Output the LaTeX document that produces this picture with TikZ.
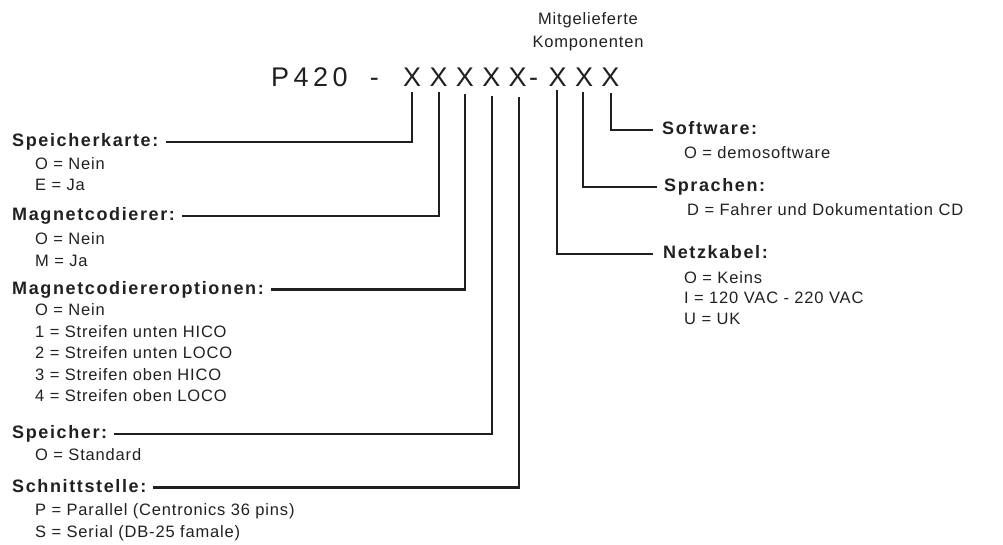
\documentclass[tikz,border=0pt]{standalone}
\usepackage{fontspec}
\setmainfont{Liberation Sans}
\newfontfamily\trkfont[LetterSpace=5]{Liberation Sans}
\newfontfamily\hdfont[LetterSpace=9]{Liberation Sans}
\newfontfamily\pfont[LetterSpace=16.7]{Liberation Sans}
\newfontfamily\xfont[LetterSpace=31]{Liberation Sans}
\definecolor{ink}{HTML}{231F20}
\tikzset{
  ln/.style={line width=2.4pt, draw=ink, line join=miter, line cap=butt},
  hd/.style={inner sep=0pt, anchor=base west, text height=12pt, text depth=3pt, text=ink,
             font=\hdfont\bfseries\fontsize{18}{20}\selectfont},
  it/.style={inner sep=0pt, anchor=base west, text=ink, font=\trkfont\fontsize{16.5}{18}\selectfont},
  big/.style={inner sep=0pt, anchor=base west, text=ink},
}
\begin{document}
\begin{tikzpicture}[x=1pt,y=-1pt]
\useasboundingbox (0,0) rectangle (1003,544);
% header
\node[inner sep=0pt, text=ink, align=center, font=\trkfont\fontsize{16.5}{23}\selectfont] (mk) at (588,32) {Mitgelieferte\\Komponenten};
\node[big, font=\pfont\fontsize{27}{30}\selectfont] (p420) at (271,86) {P420 \kern10pt-};
\node[big, font=\xfont\fontsize{27}{30}\selectfont] (code) at (403,86) {XXXXX\kern2.5pt-\kern10.5pt XXX};
% connector tops
\coordinate (c1) at (412,92);
\coordinate (c2) at (439,92);
\coordinate (c3) at (465,94);
\coordinate (c4) at (492,96);
\coordinate (c5) at (519,97);
\coordinate (c6) at (557,90);
\coordinate (c7) at (583,92);
\coordinate (c8) at (611,93);
% left labels
\node[hd] (sk) at (12,146.5) {Speicherkarte:};
\node[it] (sk1) at (35,169.5) {O = Nein};
\node[it] (sk2) at (35,190.5) {E = Ja};
\node[hd] (mc) at (12,220.5) {Magnetcodierer:};
\node[it] (mc1) at (35,244) {O = Nein};
\node[it] (mc2) at (35,266) {M = Ja};
\node[hd] (mo) at (12,294) {Magnetcodiereroptionen:};
\node[it] (mo1) at (35,315.5) {O = Nein};
\node[it] (mo2) at (35,337) {1 = Streifen unten HICO};
\node[it] (mo3) at (35,358.5) {2 = Streifen unten LOCO};
\node[it] (mo4) at (35,380) {3 = Streifen oben HICO};
\node[it] (mo5) at (35,401.5) {4 = Streifen oben LOCO};
\node[hd] (sp) at (12,438.5) {Speicher:};
\node[it] (sp1) at (35,460) {O = Standard};
\node[hd] (sn) at (12,492) {Schnittstelle:};
\node[it] (sn1) at (35,515.5) {P = Parallel (Centronics 36 pins)};
\node[it] (sn2) at (35,537.5) {S = Serial (DB-25 famale)};
% right labels
\node[hd] (sw) at (662,134.5) {Software:};
\node[it] (sw1) at (684,158.5) {O = demosoftware};
\node[hd] (spr) at (664,191.5) {Sprachen:};
\node[it] (spr1) at (687,215.5) {D = Fahrer und Dokumentation CD};
\node[hd] (nk) at (663,258.5) {Netzkabel:};
\node[it] (nk1) at (684,283) {O = Keins};
\node[it] (nk2) at (684,303.5) {I = 120 VAC - 220 VAC};
\node[it] (nk3) at (684,324.5) {U = UK};
% connectors
\draw[ln] (c1) |- ([xshift=7pt]sk.east);
\draw[ln] (c2) |- ([xshift=7pt]mc.east);
\draw[ln] (c3) |- ([xshift=7pt]mo.east);
\draw[ln] (c4) |- ([xshift=7pt]sp.east);
\draw[ln] (c5) |- ([xshift=7pt]sn.east);
\draw[ln] (c6) |- ([xshift=-10pt]nk.west);
\draw[ln] (c7) |- ([xshift=-7pt]spr.west);
\draw[ln] (c8) |- ([xshift=-9pt]sw.west);
\end{tikzpicture}
\end{document}
